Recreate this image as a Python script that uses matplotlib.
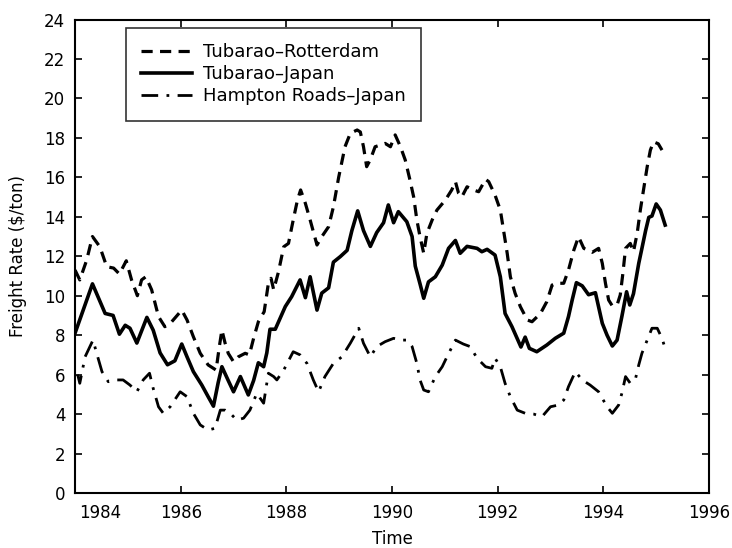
import matplotlib
matplotlib.use("Agg")
import matplotlib.pyplot as plt
import matplotlib.transforms as mtransforms
import numpy as np

# ---- data ----
rot_t = [1984.00, 1984.09, 1984.22, 1984.33, 1984.47, 1984.60, 1984.73, 1984.84, 1984.97, 1985.07,
         1985.18, 1985.26, 1985.34, 1985.45, 1985.58, 1985.70, 1985.83, 1986.02, 1986.12, 1986.24,
         1986.37, 1986.52, 1986.67, 1986.73, 1986.78, 1986.84, 1986.90, 1987.00, 1987.09, 1987.22,
         1987.30, 1987.38, 1987.47, 1987.58, 1987.66, 1987.71, 1987.76, 1987.85, 1987.95, 1988.04,
         1988.13, 1988.21, 1988.27, 1988.36, 1988.45, 1988.58, 1988.67, 1988.80, 1988.89, 1988.99,
         1989.11, 1989.21, 1989.34, 1989.40, 1989.46, 1989.52, 1989.59, 1989.68, 1989.87, 1989.97,
         1990.06, 1990.16, 1990.25, 1990.34, 1990.41, 1990.47, 1990.53, 1990.60, 1990.66, 1990.76,
         1990.85, 1991.01, 1991.13, 1991.20, 1991.26, 1991.32, 1991.42, 1991.54, 1991.64, 1991.77,
         1991.83, 1991.95, 1992.05, 1992.11, 1992.18, 1992.24, 1992.33, 1992.43, 1992.56, 1992.65,
         1992.81, 1992.93, 1993.03, 1993.12, 1993.25, 1993.34, 1993.44, 1993.53, 1993.63, 1993.79,
         1993.91, 1993.98, 1994.04, 1994.10, 1994.17, 1994.26, 1994.32, 1994.37, 1994.42, 1994.51,
         1994.57, 1994.64, 1994.70, 1994.76, 1994.83, 1994.89, 1994.95, 1995.04, 1995.11]
rot_v = [11.3, 10.8, 11.8, 13.0, 12.48, 11.47, 11.4, 11.1, 11.77, 10.8,
         10.0, 10.8, 10.96, 10.3, 8.94, 8.43, 8.68, 9.27, 8.77, 7.92,
         7.08, 6.49, 6.23, 7.4, 8.26, 7.6, 7.08, 6.65, 6.9, 7.08,
         7.0, 7.84, 8.68, 9.19, 10.63, 10.88, 10.3, 11.2, 12.48, 12.65,
         13.84, 14.85, 15.36, 14.68, 13.84, 12.57, 12.99, 13.5, 14.5, 16.0,
         17.55, 18.23, 18.4, 18.3, 17.55, 16.54, 16.9, 17.55, 17.72, 17.55,
         18.15, 17.55, 16.88, 15.86, 15.0, 13.84, 12.99, 12.15, 13.16, 13.84,
         14.34, 14.85, 15.36, 15.78, 15.19, 15.0, 15.52, 15.36, 15.27, 15.9,
         15.78, 15.1, 14.34, 13.33, 12.15, 10.96, 10.12, 9.44, 8.77, 8.68,
         9.1, 9.7, 10.54, 10.63, 10.63, 11.3, 12.3, 12.99, 12.4, 12.2,
         12.4, 11.64, 10.63, 9.78, 9.48, 9.53, 10.04, 11.14, 12.4, 12.65,
         12.23, 13.16, 14.34, 15.36, 16.54, 17.38, 17.8, 17.7, 17.38]

jap_t = [1984.00, 1984.33, 1984.57, 1984.72, 1984.84, 1984.95, 1985.04, 1985.17, 1985.36, 1985.48,
         1985.61, 1985.75, 1985.89, 1986.02, 1986.12, 1986.24, 1986.40, 1986.52, 1986.62, 1986.71,
         1986.78, 1986.90, 1987.00, 1987.13, 1987.28, 1987.38, 1987.47, 1987.57, 1987.63, 1987.69,
         1987.79, 1987.98, 1988.10, 1988.26, 1988.36, 1988.45, 1988.58, 1988.67, 1988.80, 1988.89,
         1989.02, 1989.15, 1989.24, 1989.35, 1989.46, 1989.59, 1989.71, 1989.84, 1989.93, 1990.03,
         1990.12, 1990.28, 1990.38, 1990.44, 1990.53, 1990.60, 1990.69, 1990.82, 1990.95, 1991.07,
         1991.20, 1991.29, 1991.42, 1991.61, 1991.70, 1991.80, 1991.95, 1992.05, 1992.14, 1992.27,
         1992.44, 1992.52, 1992.60, 1992.74, 1992.93, 1993.09, 1993.25, 1993.34, 1993.41, 1993.49,
         1993.60, 1993.72, 1993.85, 1993.98, 1994.07, 1994.17, 1994.26, 1994.35, 1994.44, 1994.50,
         1994.57, 1994.67, 1994.73, 1994.80, 1994.86, 1994.92, 1995.00, 1995.08, 1995.17]
jap_v = [8.1, 10.6, 9.1, 9.0, 8.05, 8.5, 8.35, 7.6, 8.9, 8.25,
         7.1, 6.5, 6.7, 7.55, 6.9, 6.15, 5.47, 4.88, 4.4, 5.6,
         6.4, 5.7, 5.13, 5.9, 4.97, 5.7, 6.6, 6.4, 7.1, 8.3,
         8.3, 9.45, 9.95, 10.8, 9.9, 10.96, 9.27, 10.13, 10.4, 11.7,
         11.98, 12.3, 13.3, 14.3, 13.3, 12.5, 13.2, 13.7, 14.6, 13.7,
         14.26, 13.75, 13.0, 11.5, 10.6, 9.87, 10.7, 10.96, 11.55, 12.4,
         12.8, 12.15, 12.5, 12.4, 12.23, 12.35, 12.06, 10.96, 9.1, 8.43,
         7.4, 7.9, 7.33, 7.16, 7.5, 7.84, 8.1, 8.94, 9.78, 10.66,
         10.5, 10.05, 10.15, 8.6, 8.0, 7.45, 7.75, 8.94, 10.2, 9.53,
         10.1, 11.64, 12.4, 13.3, 13.97, 14.04, 14.65, 14.34, 13.58]

ham_t = [1984.05, 1984.09, 1984.19, 1984.34, 1984.41, 1984.51, 1984.63, 1984.76, 1984.91, 1985.04,
         1985.17, 1985.29, 1985.41, 1985.48, 1985.58, 1985.67, 1985.80, 1985.99, 1986.12, 1986.24,
         1986.37, 1986.52, 1986.65, 1986.75, 1986.84, 1986.97, 1987.06, 1987.19, 1987.31, 1987.44,
         1987.57, 1987.66, 1987.76, 1987.82, 1987.95, 1988.13, 1988.26, 1988.39, 1988.51, 1988.61,
         1988.73, 1988.89, 1989.05, 1989.21, 1989.37, 1989.46, 1989.59, 1989.71, 1989.87, 1990.03,
         1990.16, 1990.28, 1990.38, 1990.47, 1990.53, 1990.60, 1990.69, 1990.82, 1990.95, 1991.04,
         1991.20, 1991.35, 1991.48, 1991.61, 1991.77, 1991.89, 1991.95, 1992.05, 1992.14, 1992.24,
         1992.37, 1992.52, 1992.68, 1992.84, 1993.00, 1993.15, 1993.25, 1993.34, 1993.47, 1993.60,
         1993.75, 1993.91, 1994.07, 1994.17, 1994.29, 1994.35, 1994.42, 1994.51, 1994.61, 1994.67,
         1994.73, 1994.83, 1994.92, 1995.02, 1995.11, 1995.17]
ham_v = [6.0, 5.56, 6.9, 7.75, 7.08, 6.15, 5.64, 5.73, 5.73, 5.47,
         5.13, 5.73, 6.07, 5.3, 4.37, 4.04, 4.37, 5.13, 4.88, 4.04,
         3.45, 3.19, 3.28, 4.2, 4.2, 3.95, 3.7, 3.79, 4.2, 5.05,
         4.55, 6.07, 5.9, 5.73, 6.23, 7.16, 7.0, 6.57, 5.73, 5.13,
         5.9, 6.57, 6.9, 7.59, 8.35, 7.59, 6.9, 7.42, 7.67, 7.84,
         7.75, 7.75, 7.42, 6.57, 5.73, 5.22, 5.13, 5.9, 6.4, 6.9,
         7.75, 7.55, 7.42, 6.83, 6.4, 6.32, 6.83, 6.4, 5.56, 4.88,
         4.2, 4.04, 4.0, 3.87, 4.37, 4.46, 4.71, 5.39, 6.15, 5.73,
         5.47, 5.13, 4.37, 4.04, 4.46, 5.05, 5.9, 5.56, 5.81, 6.49,
         7.08, 7.75, 8.35, 8.35, 7.84, 7.33]

series_labels = ["Tubarao\u2013Rotterdam", "Tubarao\u2013Japan", "Hampton Roads\u2013Japan"]
x_ticks = [1984, 1986, 1988, 1990, 1992, 1994, 1996]
y_ticks = [0, 2, 4, 6, 8, 10, 12, 14, 16, 18, 20, 22, 24]

plt.rcParams['font.family'] = ['DejaVu Sans']

fig = plt.figure(figsize=(7.32, 5.48), dpi=100)
ax = fig.add_axes([0.1025, 0.1004, 0.8661, 0.8640])

ax.plot(rot_t, rot_v, color='black', lw=2.3, linestyle=(0, (3.5, 2.3)),
        label=series_labels[0])
ax.plot(jap_t, jap_v, color='black', lw=2.6, linestyle='-',
        label=series_labels[1])
ax.plot(ham_t, ham_v, color='black', lw=2.0, linestyle=(0, (6, 3, 1, 3)),
        label=series_labels[2])

ax.set_xlim(1984, 1996)
ax.set_ylim(0, 24)
ax.set_xticks(x_ticks)
ax.set_yticks(y_ticks)
ax.tick_params(direction='in', length=5, width=1.2, top=True, right=True,
               labelsize=12, pad=8)
ax.tick_params(axis='x', labeltop=False)
ax.tick_params(axis='y', labelright=False, pad=7)
for s in ax.spines.values():
    s.set_linewidth(1.5)

# first x label is drawn shifted right in the reference
lbl0 = ax.get_xticklabels()[0]
lbl0.set_transform(lbl0.get_transform() +
                   mtransforms.ScaledTranslation(25 / 100, 0, fig.dpi_scale_trans))

ax.set_xlabel("Time", fontsize=12)
ax.xaxis.set_label_coords(0.5, -0.078)
ax.set_ylabel("Freight Rate ($/ton)", fontsize=12, labelpad=12)

leg = ax.legend(loc='upper left', bbox_to_anchor=(0.0804, 0.982), fontsize=13,
                frameon=True, fancybox=False, edgecolor='black', handlelength=2.8,
                borderpad=0.85, labelspacing=0.22, handletextpad=0.6,
                borderaxespad=0)
leg.get_frame().set_linewidth(1.2)

fig.savefig("out.png", dpi=100)
